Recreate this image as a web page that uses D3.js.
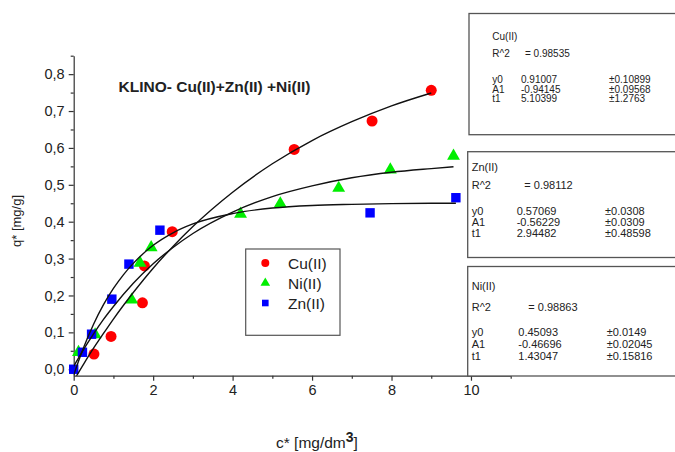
<!DOCTYPE html>
<html>
<head>
<meta charset="utf-8">
<script src="https://cdn.jsdelivr.net/npm/d3@7"></script>
<style>
  body { margin: 0; background: #fff; }
  svg { display: block; font-family: "Liberation Sans", Arial, sans-serif; }
</style>
</head>
<body>
<div id="chart"></div>
<script>
// measured points
const cuX = [0.51, 0.94, 1.73, 1.78, 2.48, 5.55, 7.51, 9.0];
const cuY = [0.041, 0.089, 0.18, 0.28, 0.373, 0.596, 0.673, 0.756];
const niX = [0.12, 0.54, 1.46, 1.67, 1.95, 4.2, 5.2, 6.67, 7.97, 9.56];
const niY = [0.046, 0.094, 0.188, 0.288, 0.33, 0.421, 0.449, 0.491, 0.541, 0.578];
const znX = [0.0, 0.22, 0.45, 0.96, 1.39, 2.17, 7.46, 9.62];
const znY = [0.0, 0.046, 0.095, 0.19, 0.285, 0.377, 0.424, 0.465];

// fitted curves
const fitCuX = [0, 0.25, 0.5, 0.75, 1, 1.5, 2, 2.5, 3, 4, 5, 6, 7, 8, 9];
const fitCuY = [-0.031, 0.014, 0.057, 0.097, 0.136, 0.208, 0.274, 0.333, 0.387, 0.480, 0.557, 0.620, 0.671, 0.714, 0.749];
const fitMidX = [0, 0.25, 0.5, 0.75, 1, 1.5, 2, 2.5, 3, 4, 5, 6, 7, 8, 9, 9.56];
const fitMidY = [0.008, 0.054, 0.096, 0.135, 0.170, 0.233, 0.286, 0.330, 0.368, 0.426, 0.468, 0.497, 0.519, 0.534, 0.544, 0.549];
const fitFlatX = [0, 0.125, 0.25, 0.5, 0.75, 1, 1.25, 1.5, 2, 2.5, 3, 4, 5, 6, 7, 8, 9, 9.62];
const fitFlatY = [-0.016, 0.023, 0.059, 0.122, 0.175, 0.219, 0.256, 0.287, 0.336, 0.370, 0.394, 0.422, 0.437, 0.444, 0.447, 0.449, 0.450, 0.450];

const yTicks = [0, 0.1, 0.2, 0.3, 0.4, 0.5, 0.6, 0.7, 0.8];
const xTicks = [0, 2, 4, 6, 8, 10];

const legendNames = ['Cu(II)', 'Ni(II)', 'Zn(II)'];

const statBoxes = [
  { title: 'Cu(II)', r2: '0.98535', rows: [['y0', '0.91007', '±0.10899'], ['A1', '-0.94145', '±0.09568'], ['t1', '5.10399', '±1.2763']] },
  { title: 'Zn(II)', r2: '0.98112', rows: [['y0', '0.57069', '±0.0308'], ['A1', '-0.56229', '±0.0309'], ['t1', '2.94482', '±0.48598']] },
  { title: 'Ni(II)', r2: '0.98863', rows: [['y0', '0.45093', '±0.0149'], ['A1', '-0.46696', '±0.02045'], ['t1', '1.43047', '±0.15816']] }
];

const width = 675, height = 452;
const svg = d3.select('#chart').append('svg')
  .attr('width', width).attr('height', height);

const x = d3.scaleLinear().domain([0, 11]).range([73.7, 510.7]);
const y = d3.scaleLinear().domain([-0.0175, 0.85]).range([375.7, 55.7]);

// clip for fit lines
svg.append('defs').append('clipPath').attr('id', 'plot-clip')
  .append('rect')
  .attr('x', x(0)).attr('y', y(0.85))
  .attr('width', x(11) - x(0)).attr('height', y(-0.0175) - y(0.85));

// axes
svg.append('g')
  .attr('transform', `translate(0,${y(-0.0175)})`)
  .call(d3.axisBottom(x).tickValues(xTicks).tickFormat(d3.format('d')).tickSize(5).tickSizeOuter(0).tickPadding(4));
svg.append('g')
  .attr('transform', `translate(0,${y(-0.0175)})`)
  .call(d3.axisBottom(x).tickValues([1, 3, 5, 7, 9, 11]).tickFormat('').tickSize(3).tickSizeOuter(0))
  .select('.domain').remove();

svg.append('g')
  .attr('transform', `translate(${x(0)},0)`)
  .call(d3.axisLeft(y).tickValues(yTicks).tickFormat(d => d3.format('.1f')(d).replace('.', ',')).tickSize(5).tickSizeOuter(0).tickPadding(4));
svg.append('g')
  .attr('transform', `translate(${x(0)},0)`)
  .call(d3.axisLeft(y).tickValues([0.05, 0.15, 0.25, 0.35, 0.45, 0.55, 0.65, 0.75, 0.85]).tickFormat('').tickSize(3).tickSizeOuter(0))
  .select('.domain').remove();

svg.selectAll('.tick text')
  .style('font-family', '"Liberation Sans", Arial, sans-serif')
  .style('font-size', '14.5px')
  .attr('fill', '#222');
svg.selectAll('.domain, .tick line').attr('stroke', '#333').attr('stroke-width', 1.2);

// axis titles
svg.append('text')
  .attr('transform', 'translate(18,221) rotate(-90)')
  .attr('text-anchor', 'middle')
  .attr('dominant-baseline', 'middle')
  .style('font-size', '13px')
  .attr('fill', '#222')
  .text('q* [mg/g]');

const xLab = svg.append('text')
  .attr('x', 276).attr('y', 448)
  .style('font-size', '15.5px')
  .attr('fill', '#222');
xLab.append('tspan').text('c* [mg/dm');
xLab.append('tspan').attr('dy', -6).style('font-weight', 'bold').style('font-size', '14px').text('3');
xLab.append('tspan').attr('dy', 6).text(']');

// chart title
svg.append('text')
  .attr('x', 118.5).attr('y', 91.5)
  .style('font-size', '15.5px')
  .style('font-weight', 'bold')
  .attr('fill', '#222')
  .text('KLINO- Cu(II)+Zn(II) +Ni(II)');

// markers
const triangle = d3.symbol().type(d3.symbolTriangle).size(72);

svg.append('g').selectAll('circle')
  .data(cuX.map((d, i) => [d, cuY[i]]))
  .join('circle')
  .attr('cx', d => x(d[0])).attr('cy', d => y(d[1]))
  .attr('r', 5.5).attr('fill', '#ff0000');

svg.append('g').selectAll('path')
  .data(niX.map((d, i) => [d, niY[i]]))
  .join('path')
  .attr('d', triangle)
  .attr('transform', d => `translate(${x(d[0])},${y(d[1])})`)
  .attr('fill', '#00ee00');

svg.append('g').selectAll('rect')
  .data(znX.map((d, i) => [d, znY[i]]))
  .join('rect')
  .attr('x', d => x(d[0]) - 4.7).attr('y', d => y(d[1]) - 4.7)
  .attr('width', 9.4).attr('height', 9.4)
  .attr('fill', '#0000ff');

// fit lines
const line = d3.line().x(d => x(d[0])).y(d => y(d[1])).curve(d3.curveMonotoneX);
const fits = [
  fitCuX.map((d, i) => [d, fitCuY[i]]),
  fitMidX.map((d, i) => [d, fitMidY[i]]),
  fitFlatX.map((d, i) => [d, fitFlatY[i]])
];
svg.append('g').attr('clip-path', 'url(#plot-clip)')
  .selectAll('path')
  .data(fits)
  .join('path')
  .attr('d', line)
  .attr('fill', 'none')
  .attr('stroke', '#111')
  .attr('stroke-width', 1.4);

// legend
const legend = svg.append('g');
legend.append('rect')
  .attr('x', 245.7).attr('y', 249)
  .attr('width', 94.3).attr('height', 86.3)
  .attr('fill', '#fff').attr('stroke', '#555').attr('stroke-width', 1.2);
legendNames.forEach((name, i) => {
  const cy = 263 + i * 20;
  if (i === 0) {
    legend.append('circle').attr('cx', 265.3).attr('cy', cy).attr('r', 4).attr('fill', '#ff0000');
  } else if (i === 1) {
    legend.append('path').attr('d', d3.symbol().type(d3.symbolTriangle).size(40))
      .attr('transform', `translate(265.3,${cy})`).attr('fill', '#00ee00');
  } else {
    legend.append('rect').attr('x', 262).attr('y', cy - 3.3).attr('width', 6.6).attr('height', 6.6).attr('fill', '#0000ff');
  }
  legend.append('text')
    .attr('x', 288).attr('y', cy)
    .attr('dominant-baseline', 'central')
    .style('font-size', '15.5px')
    .attr('fill', '#222')
    .text(name);
});

// parameter boxes
const boxGeom = [
  { top: 13.5, bottom: 134.7, left: 469, fs: 10, lineY: [36, 53.3, 79.3, 89, 98.7], c1: 492.3, c2: 521, c3: 609, r2x: 525 },
  { top: 151.7, bottom: 257.5, left: 467.7, fs: 11, lineY: [166.7, 185, 210.7, 222.3, 233.3], c1: 471.7, c2: 516.7, c3: 605, r2x: 524.3 },
  { top: 266.5, bottom: 376, left: 467.7, fs: 11, lineY: [286, 306.7, 332.3, 344.3, 356], c1: 471.7, c2: 518.3, c3: 606.7, r2x: 528.3 }
];
statBoxes.forEach((b, k) => {
  const g = boxGeom[k];
  const bg = svg.append('g').style('font-size', g.fs + 'px').attr('fill', '#222');
  bg.append('rect')
    .attr('x', g.left).attr('y', g.top)
    .attr('width', 240).attr('height', g.bottom - g.top)
    .attr('fill', '#fff').attr('stroke', '#555').attr('stroke-width', 1.3);
  const t = (tx, ty, s) => bg.append('text').attr('x', tx).attr('y', ty)
    .attr('dominant-baseline', 'central').text(s);
  t(g.c1, g.lineY[0], b.title);
  t(g.c1, g.lineY[1], 'R^2');
  t(g.r2x, g.lineY[1], '=  ' + b.r2);
  b.rows.forEach((r, j) => {
    t(g.c1, g.lineY[2 + j], r[0]);
    t(g.c2, g.lineY[2 + j], r[1]);
    t(g.c3, g.lineY[2 + j], r[2]);
  });
});
</script>
</body>
</html>
